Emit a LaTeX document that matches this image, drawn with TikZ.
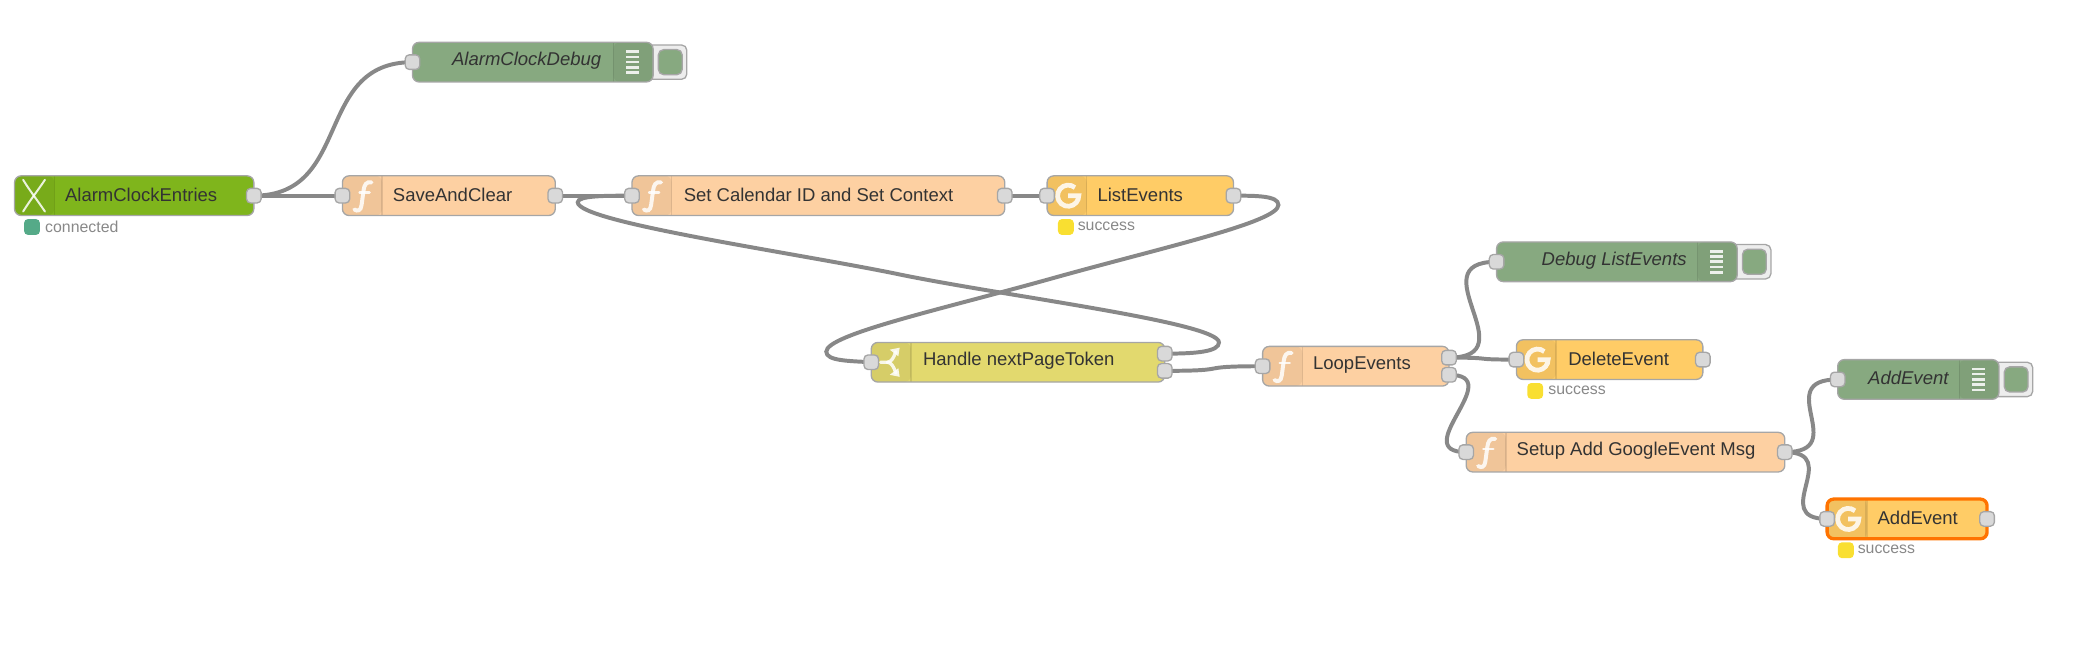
\documentclass[tikz,border=0pt]{standalone}
\usepackage{fontspec}
\setmainfont{Liberation Sans}
\usetikzlibrary{backgrounds}

\definecolor{wirecol}{HTML}{888888}
\definecolor{edgecol}{HTML}{A6A6A6}
\definecolor{portcol}{HTML}{D9D9D9}
\definecolor{mqttcol}{HTML}{7FB51C}
\definecolor{funccol}{HTML}{FDD0A2}
\definecolor{googcol}{HTML}{FFCC66}
\definecolor{swchcol}{HTML}{E2D96E}
\definecolor{dbugcol}{HTML}{87A980}
\definecolor{statgrn}{HTML}{55AA88}
\definecolor{statyel}{HTML}{F9DF31}

\tikzset{
    flownode/.style={draw=edgecol, line width=1pt, rounded corners=5pt, anchor=north west,
        minimum height=30pt, inner sep=0pt, outer sep=0pt},
    stripleft/.style={path picture={
        \fill[black,opacity=.05] (path picture bounding box.north west) rectangle ([xshift=30pt]path picture bounding box.south west);
        \draw[black,opacity=.1] ([xshift=30pt]path picture bounding box.north west) -- ([xshift=30pt]path picture bounding box.south west);}},
    stripright/.style={path picture={
        \fill[black,opacity=.05] (path picture bounding box.north east) rectangle ([xshift=-30pt]path picture bounding box.south east);
        \draw[black,opacity=.1] ([xshift=-30pt]path picture bounding box.north east) -- ([xshift=-30pt]path picture bounding box.south east);}},
    mqttnode/.style={flownode, stripleft, fill=mqttcol},
    funcnode/.style={flownode, stripleft, fill=funccol},
    goognode/.style={flownode, stripleft, fill=googcol},
    swchnode/.style={flownode, stripleft, fill=swchcol},
    dbugnode/.style={flownode, stripright, fill=dbugcol},
    portbox/.style={draw=edgecol, fill=portcol, line width=1pt, rounded corners=3pt,
        minimum size=11pt, inner sep=0pt},
    lab/.style={anchor=west, inner sep=0pt, yshift=.8pt, text=black!80, font=\fontsize{14}{16}\selectfont},
    dbuglab/.style={anchor=east, inner sep=0pt, yshift=.8pt, text=black!80, font=\fontsize{14}{16}\itshape\selectfont},
    statlab/.style={anchor=west, inner sep=0pt, text=wirecol, font=\fontsize{12}{14}\selectfont},
    statdot/.style={rounded corners=3pt, minimum size=12pt, inner sep=0pt, anchor=north west},
    wire/.style={draw=wirecol, line width=3pt},
    iconline/.style={draw=white, line width=3pt, opacity=.85, line cap=round},
}

% Icons, placed from the west or east side of a node
\newcommand{\funcIcon}[1]{
    \begin{scope}[shift={(#1.west)},x=1pt,y=1pt]
        \draw[iconline] (22,10) .. controls (18,11) and (16.5,8) .. (16,4) -- (14.5,-7) .. controls (14,-11.5) and (11.5,-12) .. (9,-10.5);
        \draw[iconline, line width=2pt] (13,2.5) -- (20.5,2.5);
    \end{scope}}
\newcommand{\googIcon}[1]{
    \begin{scope}[shift={(#1.west)},x=1pt,y=1pt]
        \draw[iconline, line width=3.6pt, line cap=butt] (16+5.1,6.1) arc[start angle=50,end angle=360,radius=8pt] -- ++(-8,0);
    \end{scope}}
\newcommand{\swchIcon}[1]{
    \begin{scope}[shift={(#1.west)},x=1pt,y=1pt]
        \draw[iconline, line width=2.5pt] (7,0) -- (12,0) .. controls (15,0) and (17,3) .. (18.5,8);
        \draw[iconline, line width=2.5pt] (12,0) .. controls (15,0) and (17,-3) .. (18.5,-8);
        \fill[white, opacity=.85] (21.5,11) -- (14,9.5) -- (20.5,4.5) -- cycle;
        \fill[white, opacity=.85] (21.5,-11) -- (14,-9.5) -- (20.5,-4.5) -- cycle;
    \end{scope}}
\newcommand{\mqttIcon}[1]{
    \begin{scope}[shift={(#1.west)},x=1pt,y=1pt]
        \draw[iconline, line width=1.5pt] (6.5,-12) .. controls (12,-3) and (17,3) .. (23,12);
        \draw[iconline, line width=1.5pt] (6.5,12) .. controls (12,3) and (17,-3) .. (23,-12);
    \end{scope}}
\newcommand{\listIcon}[1]{
    \begin{scope}[shift={(#1.east)},x=1pt,y=1pt]
        \foreach \k in {-8,-4,0,4,8}
            \draw[white, line width=2pt, opacity=.85] (-20.5,\k) -- (-10.5,\k);
    \end{scope}}
% Button hanging on the right of a debug node
\newcommand{\dbugButton}[1]{
    \node[draw=edgecol, fill=black!7, line width=1pt, rounded corners=4pt, minimum width=30pt,
        minimum height=26pt, inner sep=0pt, anchor=east] (#1btn) at ([xshift=26pt]#1.east) {};
    \node[draw=edgecol, fill=dbugcol, line width=1pt, rounded corners=4pt, minimum width=18pt,
        minimum height=19pt, inner sep=0pt, anchor=east] (#1dot) at ([xshift=22.5pt]#1.east) {};}

\begin{document}
\begin{tikzpicture}[x=1pt,y=-1pt]
        \useasboundingbox (0,0) rectangle (1568,495.4);

        % Buttons of the debug nodes go behind them
        \coordinate (dbgA) at (494,47);
        \coordinate (dbgB) at (1314,198);
        \coordinate (dbgC) at (1512,287);
        \dbugButton{dbgA}
        \dbugButton{dbgB}
        \dbugButton{dbgC}

        % Top row
        \node[dbugnode, minimum width=182pt] (clockdebug) at (312,32) {};
        \node[mqttnode, minimum width=181pt] (entries) at (11,133) {};
        \node[funcnode, minimum width=161pt] (saveclear) at (259,133) {};
        \node[funcnode, minimum width=282pt] (setcal) at (478,133) {};
        \node[goognode, minimum width=141pt] (listev) at (792,133) {};

        % Middle row
        \node[swchnode, minimum width=222pt] (nextpage) at (659,259) {};
        \node[funcnode, minimum width=141pt] (loopev) at (955,262) {};

        % Right side
        \node[dbugnode, minimum width=182pt] (debuglist) at (1132,183) {};
        \node[goognode, minimum width=141pt] (deleteev) at (1147,257) {};
        \node[funcnode, minimum width=241pt] (setupadd) at (1109,327) {};
        \node[dbugnode, minimum width=122pt] (debugadd) at (1390,272) {};
        \node[goognode, minimum width=121pt, draw=orange!90!red, line width=2.5pt] (addev) at (1382,377.5) {};

        % Labels
        \node[dbuglab] (clockdebugtxt) at ([xshift=-39pt]clockdebug.east) {AlarmClockDebug};
        \node[lab] (entriestxt) at ([xshift=38pt]entries.west) {AlarmClockEntries};
        \node[lab] (savecleartxt) at ([xshift=38pt]saveclear.west) {SaveAndClear};
        \node[lab] (setcaltxt) at ([xshift=39pt]setcal.west) {Set Calendar ID and Set Context};
        \node[lab] (listevtxt) at ([xshift=38pt]listev.west) {ListEvents};
        \node[lab] (nextpagetxt) at ([xshift=39pt]nextpage.west) {Handle nextPageToken};
        \node[lab] (loopevtxt) at ([xshift=38pt]loopev.west) {LoopEvents};
        \node[dbuglab] (debuglisttxt) at ([xshift=-38pt]debuglist.east) {Debug ListEvents};
        \node[lab] (deleteevtxt) at ([xshift=39pt]deleteev.west) {DeleteEvent};
        \node[lab] (setupaddtxt) at ([xshift=38pt]setupadd.west) {Setup Add GoogleEvent Msg};
        \node[dbuglab] (debugaddtxt) at ([xshift=-38pt]debugadd.east) {AddEvent};
        \node[lab] (addevtxt) at ([xshift=38pt]addev.west) {AddEvent};

        % Icons
        \mqttIcon{entries}
        \funcIcon{saveclear}
        \funcIcon{setcal}
        \funcIcon{loopev}
        \funcIcon{setupadd}
        \googIcon{listev}
        \googIcon{deleteev}
        \googIcon{addev}
        \swchIcon{nextpage}
        \listIcon{clockdebug}
        \listIcon{debuglist}
        \listIcon{debugadd}

        % Status under the nodes
        \node[statdot, fill=statgrn] (entriesdot) at (18,165.5) {};
        \node[statlab] (entriesstat) at (34,171.5) {connected};
        \node[statdot, fill=statyel] (listevdot) at (800,165.5) {};
        \node[statlab] (listevstat) at (815,171.5) {success};
        \node[statdot, fill=statyel] (deleteevdot) at (1155,289.5) {};
        \node[statlab] (deleteevstat) at (1171,295.5) {success};
        \node[statdot, fill=statyel] (addevdot) at (1390,410) {};
        \node[statlab] (addevstat) at (1405,415.5) {success};

        % Ports
        \node[portbox] (clockdebugin) at (clockdebug.west) {};
        \node[portbox] (entriesout) at (entries.east) {};
        \node[portbox] (saveclearin) at (saveclear.west) {};
        \node[portbox] (saveclearout) at (saveclear.east) {};
        \node[portbox] (setcalin) at (setcal.west) {};
        \node[portbox] (setcalout) at (setcal.east) {};
        \node[portbox] (listevin) at (listev.west) {};
        \node[portbox] (listevout) at (listev.east) {};
        \node[portbox] (nextpagein) at (nextpage.west) {};
        \node[portbox] (nextpageoutA) at ([yshift=6.5pt]nextpage.east) {};
        \node[portbox] (nextpageoutB) at ([yshift=-6.5pt]nextpage.east) {};
        \node[portbox] (loopevin) at (loopev.west) {};
        \node[portbox] (loopevoutA) at ([yshift=6.5pt]loopev.east) {};
        \node[portbox] (loopevoutB) at ([yshift=-6.5pt]loopev.east) {};
        \node[portbox] (debuglistin) at (debuglist.west) {};
        \node[portbox] (deleteevin) at (deleteev.west) {};
        \node[portbox] (deleteevout) at (deleteev.east) {};
        \node[portbox] (setupaddin) at (setupadd.west) {};
        \node[portbox] (setupaddout) at (setupadd.east) {};
        \node[portbox] (debugaddin) at (debugadd.west) {};
        \node[portbox] (addevin) at (addev.west) {};
        \node[portbox] (addevout) at (addev.east) {};

        % Wires, under everything else
        \begin{pgfonlayer}{background}
            \draw[wire] (entriesout.center) .. controls +(75,0) and +(-75,0) .. (clockdebugin.center);
            \draw[wire] (entriesout.center) -- (saveclearin.center);
            \draw[wire] (saveclearout.center) -- (setcalin.center);
            \draw[wire] (setcalout.center) -- (listevin.center);

            % The two long ones that run back
            \draw[wire] (nextpageoutA.center) .. controls +(24,0) and (922,266) .. (922,259)
                .. controls (922,244) and (760,224) .. (680,207.5)
                .. controls (600,191) and (437,168) .. (437,153)
                .. controls (437,148) and (458,148) .. (setcalin.center);
            \draw[wire] (listevout.center) .. controls +(17,0) and (967,148) .. (967,155)
                .. controls (967,168) and (880,187) .. (796,210.5)
                .. controls (712,234) and (625,253) .. (625,266)
                .. controls (625,273) and (642,273) .. (nextpagein.center);

            \draw[wire] (nextpageoutB.center) .. controls +(55,0) and +(-55,0) .. (loopevin.center);
            \draw[wire] (loopevoutA.center) .. controls +(60,0) and +(-60,0) .. (debuglistin.center);
            \draw[wire] (loopevoutA.center) .. controls +(38,0) and +(-38,0) .. (deleteevin.center);
            \draw[wire] (loopevoutB.center) .. controls +(45,0) and +(-45,0) .. (setupaddin.center);
            \draw[wire] (setupaddout.center) .. controls +(51,0) and +(-51,0) .. (debugaddin.center);
            \draw[wire] (setupaddout.center) .. controls +(44.5,0) and +(-44.5,0) .. (addevin.center);
        \end{pgfonlayer}
\end{tikzpicture}
\end{document}
